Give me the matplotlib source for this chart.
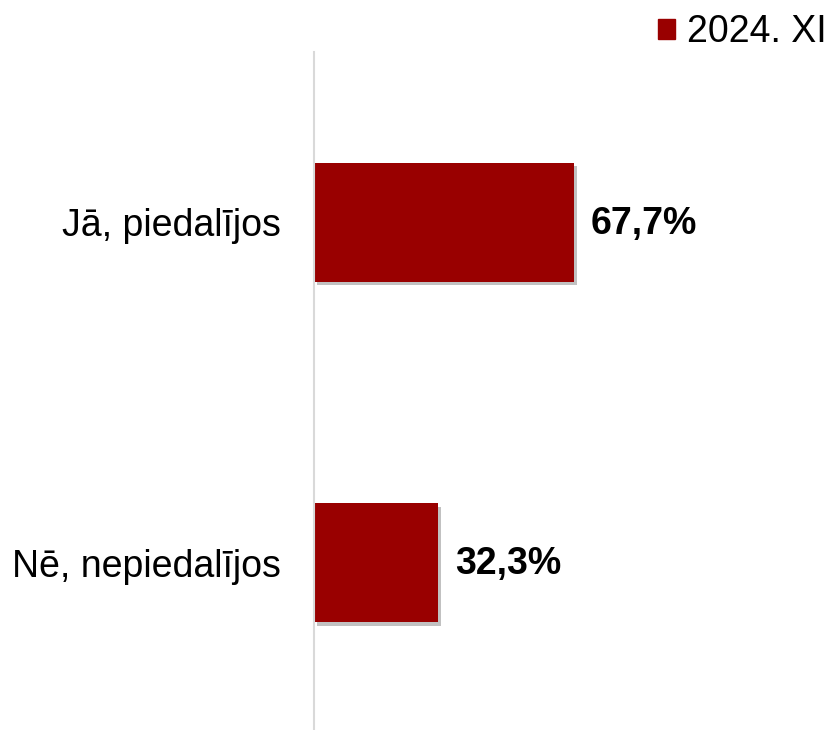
import matplotlib
matplotlib.use("Agg")
import matplotlib.pyplot as plt
import matplotlib.patheffects as pe
from matplotlib.patches import Patch

# data
categories = ["Jā, piedalījos", "Nē, nepiedalījos"]
values = [67.7, 32.3]
series_name = "2024. XI"

plt.rcParams["font.family"] = ["Liberation Sans", "DejaVu Sans"]

fig = plt.figure(figsize=(8.3, 7.3), dpi=100)
ax = fig.add_axes([314 / 830, -3 / 730, 506 / 830, 681 / 730])

bar_color = "#990000"
bars = ax.barh(range(len(categories)), values, height=0.35, color=bar_color,
               path_effects=[pe.SimplePatchShadow(offset=(2.5, -2.5), shadow_rgbFace="#777777", alpha=0.45),
                             pe.Normal()])

ax.set_xlim(0, 132)
ax.set_ylim(1.5, -0.5)

for i, v in enumerate(values):
    ax.text(v + 4.5, i + 0.005, f"{v:.1f}%".replace(".", ","), va="center", ha="left",
            fontsize=27, fontweight="bold", color="black")

ax.set_yticks(range(len(categories)))
ax.set_yticklabels(categories, fontsize=27)
ax.tick_params(axis="y", length=0, pad=24)
ax.set_xticks([])

for s in ["top", "right", "bottom"]:
    ax.spines[s].set_visible(False)
ax.spines["left"].set_color("#d9d9d9")
ax.spines["left"].set_linewidth(1.5)

fig.legend(handles=[Patch(color=bar_color, label=series_name)], loc="upper right",
           bbox_to_anchor=(1.036, 1.027), frameon=False, fontsize=27,
           handlelength=0.45, handleheight=0.45, handletextpad=0.3)

fig.savefig("out.png", dpi=100)
